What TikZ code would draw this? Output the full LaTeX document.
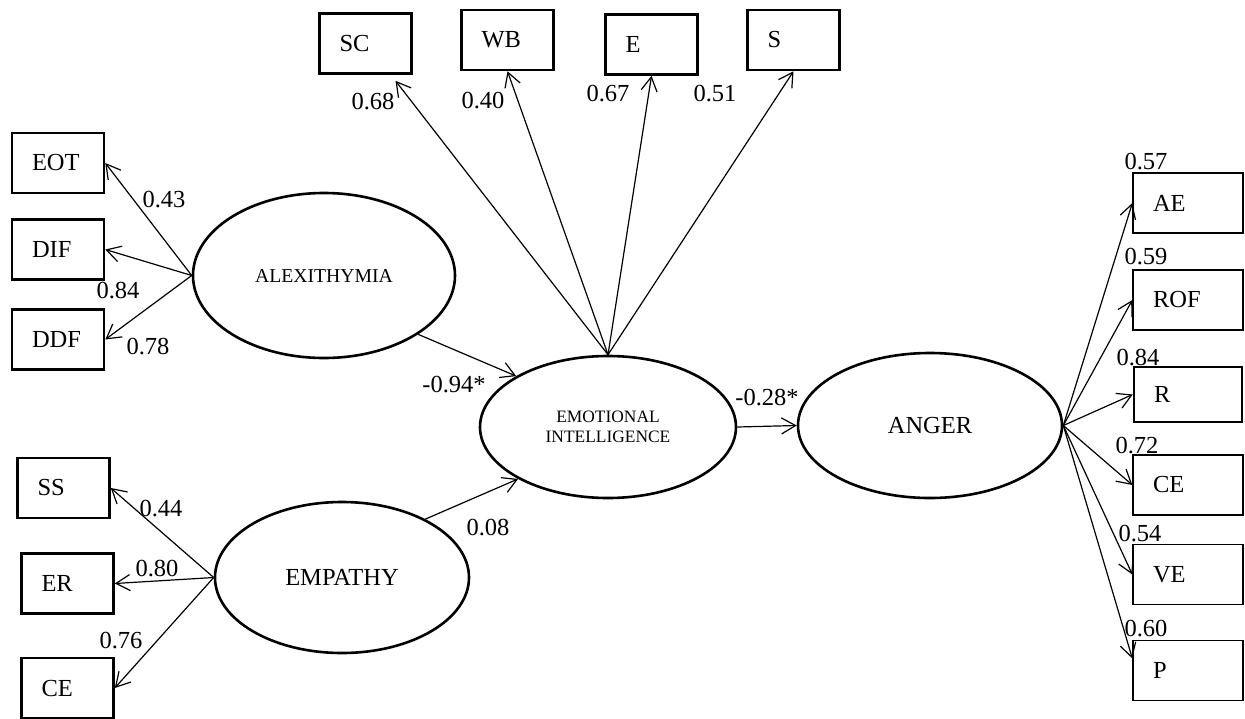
\documentclass[tikz,border=0pt]{standalone}
\usepackage{fontspec}
\setmainfont{Liberation Serif}
\usepackage{tikz}
\usetikzlibrary{shapes,arrows,arrows.meta}

\begin{document}
\begin{tikzpicture}[x=1pt, y=-1pt, font=\fontsize{24.5}{28}\selectfont]
			\tikzstyle{Latent}	= [ellipse, draw, line width=2.6pt, inner sep=0pt, align=center]
			\tikzstyle{Obs}		= [rectangle, draw, line width=2.6pt, minimum height=60pt, inner xsep=20pt, inner ysep=0pt, text width=52pt, align=left]
			\tikzstyle{ObsThin}	= [Obs, line width=1.3pt, text width=70pt]
			\tikzstyle{Path}	= [-{Straight Barb[length=14pt, width=16pt]}, line width=1.2pt]
			\tikzstyle{Coef}	= [inner sep=0pt]

			\useasboundingbox (0,0) rectangle (1245,718);

			% latent variables
			\node (alex) at (324,275.5) [Latent, minimum width=262pt, minimum height=165pt, font=\fontsize{19.7}{23}\selectfont] {ALEXITHYMIA};
			\node (emp) at (342,577.5) [Latent, minimum width=254pt, minimum height=151pt] {EMPATHY};
			\node (ei) at (608,427) [Latent, minimum width=256pt, minimum height=142pt, font=\fontsize{17.4}{20}\selectfont] {EMOTIONAL\\INTELLIGENCE};
			\node (anger) at (930,425.5) [Latent, minimum width=264pt, minimum height=145pt] {ANGER};

			% emotional intelligence
			\node (sc) at (365.5,43.5) [Obs] {SC};
			\node (wb) at (507.5,40) [Obs] {WB};
			\node (e) at (651.5,44.5) [Obs] {E};
			\node (s) at (793.5,40) [Obs] {S};

			% alexithymia
			\node (eot) at (58,163) [Obs] {EOT};
			\node (dif) at (58,249.5) [Obs] {DIF};
			\node (ddf) at (58,339.5) [Obs] {DDF};

			% empathy
			\node (ss) at (63.5,488) [Obs] {SS};
			\node (er) at (67.5,583.5) [Obs] {ER};
			\node (ce) at (67.5,688) [Obs] {CE};

			% anger
			\node (ae) at (1188,203) [ObsThin] {AE};
			\node (rof) at (1188,300) [ObsThin] {ROF};
			\node (r) at (1188,394.5) [Obs, text width=68pt, minimum height=55pt] {R};
			\node (ce2) at (1188,485) [ObsThin] {CE};
			\node (ve) at (1188,574.5) [ObsThin] {VE};
			\node (p) at (1188,670.5) [ObsThin] {P};

			\draw [Path] (ei.north) to ([xshift=30pt,yshift=-6pt]sc.south);
			\draw [Path] (ei.north) to (wb.south);
			\draw [Path] (ei.north) to (e.south);
			\draw [Path] (ei.north) to (s.south);

			\draw [Path] (alex.west) to (eot.east);
			\draw [Path] (alex.west) to (dif.east);
			\draw [Path] (alex.west) to (ddf.east);

			\draw [Path] (emp.west) to (ss.east);
			\draw [Path] (emp.west) to (er.east);
			\draw [Path] (emp.west) to (ce.east);

			\draw [Path] (alex.-32) to (ei.151);
			\draw [Path] (emp.35) to (ei.210);
			\draw [Path] (ei.east) to (anger.west);

			\draw [Path] (anger.east) to (ae.west);
			\draw [Path] (anger.east) to (rof.west);
			\draw [Path] (anger.east) to (r.west);
			\draw [Path] (anger.east) to (ce2.west);
			\draw [Path] (anger.east) to (ve.west);
			\draw [Path] (anger.east) to ([yshift=12pt]p.west);

			% loadings and paths
			\node (k-sc) at (373,102) [Coef] {0.68};
			\node (k-wb) at (483,101) [Coef] {0.40};
			\node (k-e) at (608,94) [Coef] {0.67};
			\node (k-s) at (715,94) [Coef] {0.51};
			\node (k-eot) at (164,200) [Coef] {0.43};
			\node (k-dif) at (118,291) [Coef] {0.84};
			\node (k-ddf) at (148,347) [Coef] {0.78};
			\node (k-ss) at (161,509) [Coef] {0.44};
			\node (k-er) at (157,569) [Coef] {0.80};
			\node (k-ce) at (121,641) [Coef] {0.76};
			\node (k-alex) at (454,385) [Coef] {-0.94*};
			\node (k-emp) at (488,528) [Coef] {0.08};
			\node (k-ei) at (767,398) [Coef] {-0.28*};
			\node (k-ae) at (1146,162) [Coef] {0.57};
			\node (k-rof) at (1146,257) [Coef] {0.59};
			\node (k-r) at (1138,358) [Coef] {0.84};
			\node (k-ce2) at (1137,446) [Coef] {0.72};
			\node (k-ve) at (1140,534) [Coef] {0.54};
			\node (k-p) at (1146,629) [Coef] {0.60};
		\end{tikzpicture}
\end{document}
